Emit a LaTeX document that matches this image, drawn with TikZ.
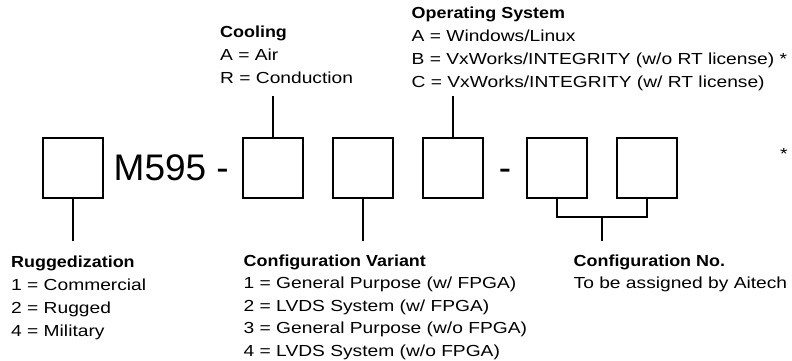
\documentclass[tikz,border=0pt]{standalone}
\usepackage{fontspec}
\setmainfont{Liberation Sans}
\newfontfamily\bodyfont{Liberation Sans}[FakeStretch=1.2]
\newfontfamily\headfont{Liberation Sans}[FakeStretch=1.12]
\newfontfamily\bigfont{Liberation Sans}
\tikzset{
  digit/.style={draw, line width=2pt, minimum size=60pt, inner sep=0pt},
  lead/.style={line width=2pt},
  head/.style={anchor=base west, inner sep=0pt, font=\headfont\bfseries\fontsize{16}{19}\selectfont},
  item/.style={anchor=base west, inner sep=0pt, font=\bodyfont\fontsize{16}{19}\selectfont},
  big/.style={inner sep=0pt, font=\bigfont\fontsize{37}{40}\selectfont}
}
\begin{document}
\begin{tikzpicture}[x=1pt,y=-1pt]
\useasboundingbox[fill=white] (0,0) rectangle (792,360);
% boxes
\node[digit] (b1) at (73,168) {};
\node[digit] (b2) at (273,168) {};
\node[digit] (b3) at (363,168) {};
\node[digit] (b4) at (453,168) {};
\node[digit] (b5) at (557,168) {};
\node[digit] (b6) at (647,168) {};
\node[big, anchor=base west] (model) at (113.5,180) {M595 -};
\node[big, anchor=base] (dash) at (505,180) {-};
\node[item] (star) at (780,159) {*};
% Cooling
\node[head] (coolh) at (220,37.7) {Cooling};
\node[item] (coola) at (220,60.7) {A = Air};
\node[item] (coolr) at (220,83.5) {R = Conduction};
\coordinate (cooltop) at (273,96);
\draw[lead] (b2.north) -- (cooltop);
% Operating System
\node[head] (osh) at (411.5,18) {Operating System};
\node[item] (osa) at (411.5,41.2) {A = Windows/Linux};
\node[item] (osb) at (411.5,64.4) {B = VxWorks/INTEGRITY (w/o RT license) *};
\node[item] (osc) at (411.5,87.6) {C = VxWorks/INTEGRITY (w/ RT license)};
\coordinate (ostop) at (453,96);
\draw[lead] (b4.north) -- (ostop);
% Ruggedization
\coordinate (rugend) at (73,241);
\draw[lead] (b1.south) -- (rugend);
\node[head] (rugh) at (11,267) {Ruggedization};
\node[item] (rug1) at (11,290.3) {1 = Commercial};
\node[item] (rug2) at (11,313.3) {2 = Rugged};
\node[item] (rug4) at (11,336.3) {4 = Military};
% Configuration Variant
\coordinate (cvend) at (363,241);
\draw[lead] (b3.south) -- (cvend);
\node[head] (cvh) at (243.5,266.5) {Configuration Variant};
\node[item] (cv1) at (243.5,288.5) {1 = General Purpose (w/ FPGA)};
\node[item] (cv2) at (243.5,311) {2 = LVDS System (w/ FPGA)};
\node[item] (cv3) at (243.5,333.5) {3 = General Purpose (w/o FPGA)};
\node[item] (cv4) at (243.5,356) {4 = LVDS System (w/o FPGA)};
% Configuration No.
\coordinate (cnj) at (602,216.7);
\coordinate (cnend) at (602,241);
\draw[lead] (b5.south) |- (cnj) -| (b6.south);
\draw[lead] (cnj) -- (cnend);
\node[head] (cnh) at (573.5,266.5) {Configuration No.};
\node[item] (cn1) at (573.5,288.5) {To be assigned by Aitech};
\end{tikzpicture}
\end{document}
